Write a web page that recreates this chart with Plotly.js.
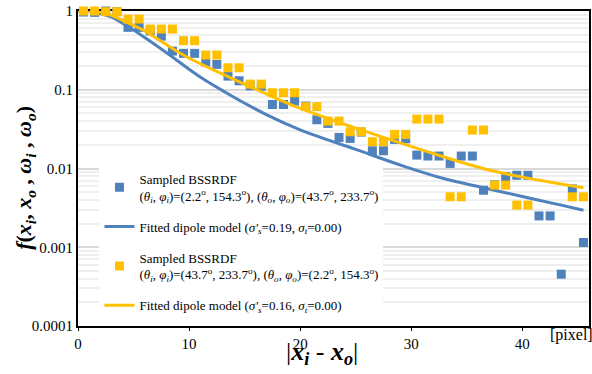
<!DOCTYPE html>
<html>
<head>
<meta charset="utf-8">
<script src="https://cdn.plot.ly/plotly-3.0.1.min.js"></script>
<style>html,body{margin:0;padding:0;background:#fff;}#chart{width:592px;height:374px;}</style>
</head>
<body>
<div id="chart"></div>
<script>
// Sample positions |xi - xo| [pixel]
const sampleX = [0.5,1.5,2.5,3.5,4.5,5.5,6.5,7.5,8.5,9.5,10.5,11.5,12.5,13.5,14.5,15.5,16.5,17.5,18.5,19.5,20.5,21.5,22.5,23.5,24.5,25.5,26.5,27.5,28.5,29.5,30.5,31.5,32.5,33.5,34.5,35.5,36.5,37.5,38.5,39.5,40.5,41.5,42.5,43.5,44.5,45.5];
// Sampled BSSRDF 1 (blue)
const sampledBlue = [0.97,0.96,1.0,0.98,0.62,0.62,0.56,0.48,0.31,0.29,0.29,0.225,0.21,0.149,0.13,0.112,0.111,0.065,0.065,0.072,0.062,0.0416,0.0374,0.0248,0.0241,0.029,0.0168,0.0168,0.0234,0.0238,0.0148,0.0144,0.0144,0.0116,0.0144,0.0144,0.0053,0.0062,0.0079,0.0082,0.0082,0.0025,0.0025,0.000455,0.0055,0.00115];
// Sampled BSSRDF 2 (orange)
const sampledOrange = [1.0,1.0,0.98,0.98,0.79,0.79,0.59,0.59,0.59,0.42,0.42,0.276,0.276,0.19,0.19,0.118,0.118,0.0916,0.0916,0.0916,0.061,0.061,0.040,0.040,0.0293,0.0293,0.0219,0.0219,0.0271,0.0271,0.0424,0.0424,0.0424,0.00437,0.00437,0.0308,0.0308,0.00615,0.00615,0.00343,0.00343,null,null,null,0.00437,0.00437];
// Fitted dipole model 1 (blue line)
const fitBlueX = [0,1,2,3,4,5,8,11,14,17,20,25,29.5,33,36.5,40,43.6,45.5];
const fitBlueY = [1.0,0.985,0.93,0.84,0.70,0.573,0.293,0.145,0.081,0.048,0.031,0.0175,0.0105,0.0074,0.0057,0.0044,0.0034,0.00295];
// Fitted dipole model 2 (orange line)
const fitOrangeX = [0,1.6,2.5,4.3,5.85,9.6,13.5,17,19.5,24.1,30.4,37.1,45.5];
const fitOrangeY = [1.0,0.98,0.935,0.73,0.573,0.27,0.147,0.088,0.062,0.036,0.0183,0.0095,0.0057];

const yTickVals = [1,0.1,0.01,0.001,0.0001];
const yTickText = ['1','0.1','0.01','0.001','0.0001'];
const xTickVals = [0,10,20,30,40];

const nameSampled1 = 'Sampled BSSRDF<br>(<i>θ<sub>i</sub></i>, <i>φ<sub>i</sub></i>)=(2.2<sup>o</sup>, 154.3<sup>o</sup>), (<i>θ<sub>o</sub></i>, <i>φ<sub>o</sub></i>)=(43.7<sup>o</sup>, 233.7<sup>o</sup>)';
const nameFit1 = "Fitted dipole model (<i>σ'<sub>s</sub></i>=0.19, <i>σ<sub>t</sub></i>=0.00)";
const nameSampled2 = 'Sampled BSSRDF<br>(<i>θ<sub>i</sub></i>, <i>φ<sub>i</sub></i>)=(43.7<sup>o</sup>, 233.7<sup>o</sup>), (<i>θ<sub>o</sub></i>, <i>φ<sub>o</sub></i>)=(2.2<sup>o</sup>, 154.3<sup>o</sup>)';
const nameFit2 = "Fitted dipole model (<i>σ'<sub>s</sub></i>=0.16, <i>σ<sub>t</sub></i>=0.00)";

const BLUE = '#4f81bd', ORANGE = '#ffc000';
const SERIF = 'Liberation Serif';

const traces = [
  {x: sampleX, y: sampledBlue, type:'scatter', mode:'markers', name: nameSampled1, legendgroup:'a',
   marker:{symbol:'square', size:9, color:BLUE}, cliponaxis:false},
  {x: fitBlueX, y: fitBlueY, type:'scatter', mode:'lines', name: nameFit1, legendgroup:'b',
   line:{color:BLUE, width:3, shape:'spline'}},
  {x: sampleX, y: sampledOrange, type:'scatter', mode:'markers', name: nameSampled2, legendgroup:'c',
   marker:{symbol:'square', size:9, color:ORANGE}, cliponaxis:false},
  {x: fitOrangeX, y: fitOrangeY, type:'scatter', mode:'lines', name: nameFit2, legendgroup:'d',
   line:{color:ORANGE, width:3, shape:'spline'}}
];

const layout = {
  width:592, height:374,
  margin:{l:78, r:3, t:11, b:48},
  paper_bgcolor:'#fff', plot_bgcolor:'#fff',
  font:{family:SERIF, size:14, color:'#000'},
  showlegend:true,
  legend:{x:0.042, y:0.515, xanchor:'left', yanchor:'top', bgcolor:'#fff', borderwidth:0,
          font:{family:SERIF, size:13, color:'#000'}, tracegroupgap:11, traceorder:'grouped'},
  xaxis:{range:[0,46], tickvals:xTickVals, showgrid:false, zeroline:false,
         showline:true, linecolor:'#000', linewidth:2, mirror:true, layer:'below traces',
         ticks:'outside', ticklen:3, tickcolor:'#000', tickwidth:1,
         tickfont:{family:SERIF, size:15, color:'#000'}},
  yaxis:{type:'log', range:[-4,0], tickvals:yTickVals, ticktext:yTickText,
         showgrid:true, gridcolor:'#d9d9d9', gridwidth:2, zeroline:false,
         showline:true, linecolor:'#000', linewidth:2, mirror:true, layer:'below traces',
         ticks:'', tickfont:{family:SERIF, size:15, color:'#000'},
         minor:{showgrid:true, dtick:'D1', gridcolor:'#efefef', gridwidth:2}},
  annotations:[
    {text:'<b><i>f</i>(<i>x<sub>i</sub></i>, <i>x<sub>o</sub></i> , <i>ω<sub>i</sub></i> , <i>ω<sub>o</sub></i>)</b>',
     xref:'paper', yref:'paper', x:-0.104, y:0.47, xanchor:'center', yanchor:'middle',
     textangle:-90, showarrow:false, font:{family:SERIF, size:22, color:'#000'}},
    {text:'|<b><i>x<sub>i</sub></i></b> - <b><i>x<sub>o</sub></i></b>|',
     xref:'paper', yref:'paper', x:(322-78)/511, y:-0.03, xanchor:'center', yanchor:'top',
     showarrow:false, font:{family:SERIF, size:26, color:'#000'}},
    {text:'[pixel]', xref:'paper', yref:'paper', x:0.92, y:-0.029, xanchor:'left', yanchor:'middle',
     showarrow:false, font:{family:SERIF, size:16, color:'#000'}}
  ]
};

Plotly.newPlot('chart', traces, layout, {displayModeBar:false, staticPlot:true});
</script>
</body>
</html>
